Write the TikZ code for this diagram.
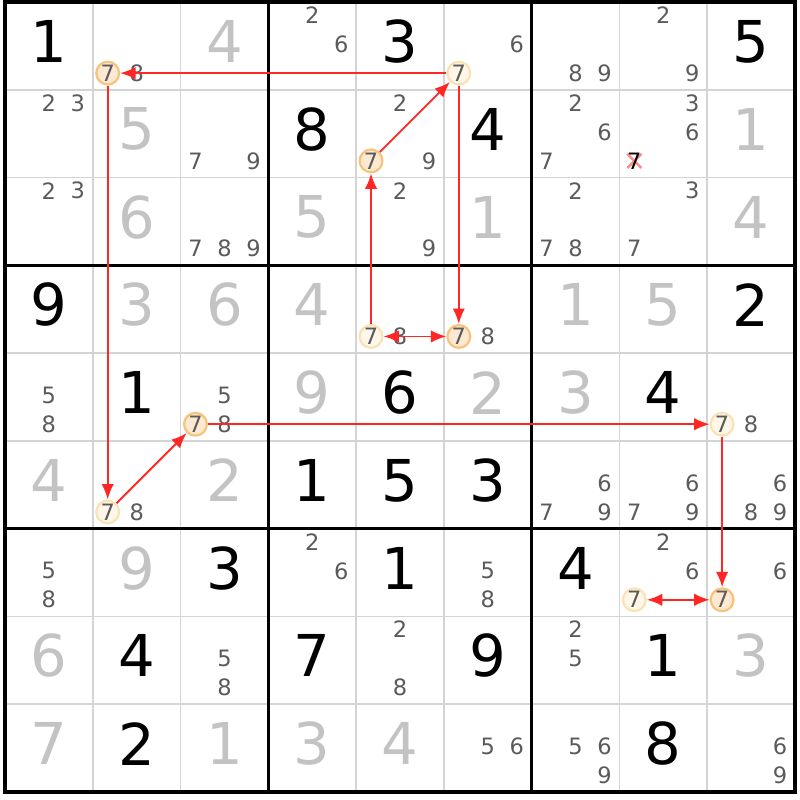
\documentclass[tikz,border=0pt]{standalone}
\usepackage{fontspec}
\setmainfont{DejaVu Sans}
\usetikzlibrary{arrows.meta}
\definecolor{solvedgray}{HTML}{C3C3C3}
\definecolor{candgray}{HTML}{5A5A5A}
\definecolor{thinline}{HTML}{D4D4D4}
\definecolor{ringA}{HTML}{F7C27A}
\definecolor{fillA}{HTML}{FDE9D2}
\definecolor{ringB}{HTML}{FBE2B5}
\definecolor{fillB}{HTML}{FEF6E8}

\begin{document}
\begin{tikzpicture}[
  given/.style={inner sep=0pt, font=\fontsize{18.7}{20}\selectfont},
  solved/.style={given, text=solvedgray},
  cand/.style={inner sep=0pt, text=candgray, font=\fontsize{7.3}{8}\selectfont},
  linkA/.style={cand, circle, draw=ringA, fill=fillA, line width=0.7pt, minimum size=0.26cm},
  linkB/.style={linkA, draw=ringB, fill=fillB},
  chain/.style={red!85, line width=0.6pt},
  >={Latex[length=5pt,width=4pt]}
]
  \useasboundingbox (-0.057,0.023) rectangle (9.057,-9.09);
  \foreach \i in {1,2,4,5,7,8} {
    \draw[thinline, line width=0.6pt] (\i,0) -- (\i,-9);
    \draw[thinline, line width=0.6pt] (0,-\i) -- (9,-\i);
  }
  \foreach \i in {3,6} {
    \draw[line width=1pt] (\i,0) -- (\i,-9);
    \draw[line width=1pt] (0,-\i) -- (9,-\i);
  }
  \draw[line width=1pt] (0,0) rectangle (9,-9);

  \foreach \r/\c/\d in {1/1/1, 1/5/3, 1/9/5, 2/4/8, 2/6/4, 4/1/9, 4/9/2, 5/2/1, 5/5/6,
      5/8/4, 6/4/1, 6/5/5, 6/6/3, 7/3/3, 7/5/1, 7/7/4, 8/2/4, 8/4/7, 8/6/9, 8/8/1,
      9/2/2, 9/8/8}
    \node[given] at (\c-0.5,-\r+0.55) {\d};
  \foreach \r/\c/\d in {1/3/4, 2/2/5, 2/9/1, 3/2/6, 3/4/5, 3/6/1, 3/9/4, 4/2/3, 4/3/6,
      4/4/4, 4/7/1, 4/8/5, 5/4/9, 5/6/2, 5/7/3, 6/1/4, 6/3/2, 7/2/9, 8/1/6, 8/9/3,
      9/1/7, 9/3/1, 9/4/3, 9/5/4}
    \node[solved] at (\c-0.5,-\r+0.55) {\d};

  \foreach \r/\c/\ks in {1/2/8, 1/4/{2,6}, 1/6/6, 1/7/{8,9}, 1/8/{2,9},
      2/1/{2,3}, 2/3/{7,9}, 2/5/{2,9}, 2/7/{2,6,7}, 2/8/{3,6},
      3/1/{2,3}, 3/3/{7,8,9}, 3/5/{2,9}, 3/7/{2,7,8}, 3/8/{3,7},
      4/5/8, 4/6/8, 5/1/{5,8}, 5/3/{5,8}, 5/9/8,
      6/2/8, 6/7/{6,7,9}, 6/8/{6,7,9}, 6/9/{6,8,9},
      7/1/{5,8}, 7/4/{2,6}, 7/6/{5,8}, 7/8/{2,6}, 7/9/6,
      8/3/{5,8}, 8/5/{2,8}, 8/7/{2,5}, 9/6/{5,6}, 9/7/{5,6,9}, 9/9/{6,9}}
    \foreach \k in \ks
      \node[cand] at ({\c-0.5+(mod(\k-1,3)-1)*0.33},{-\r+0.85-floor((\k-1)/3)*0.33}) {\k};

  \draw[red!45, line width=0.8pt] (7.09,-1.73) -- (7.25,-1.89) (7.09,-1.89) -- (7.25,-1.73);
  \node[cand, text=black] (x28) at (7.17,-1.81) {7};

  \foreach \r/\c/\s in {1/2/linkA, 1/6/linkB, 2/5/linkA, 4/5/linkB, 4/6/linkA,
      5/3/linkA, 5/9/linkB, 6/2/linkB, 7/8/linkB, 7/9/linkA}
    \node[\s] (n\r\c) at (\c-0.83,-\r+0.19) {7};

  \draw[chain, ->] (n16) -- (n12);
  \draw[chain, ->] (n12) -- (n62);
  \draw[chain, ->] (n62) -- (n53);
  \draw[chain, ->] (n53) -- (n59);
  \draw[chain, ->] (n59) -- (n79);
  \draw[chain, <->] (n78) -- (n79);
  \draw[chain, ->] (n45) -- (n25);
  \draw[chain, ->] (n25) -- (n16);
  \draw[chain, ->] (n16) -- (n46);
  \draw[chain, <->] (n45) -- (n46);
\end{tikzpicture}
\end{document}
